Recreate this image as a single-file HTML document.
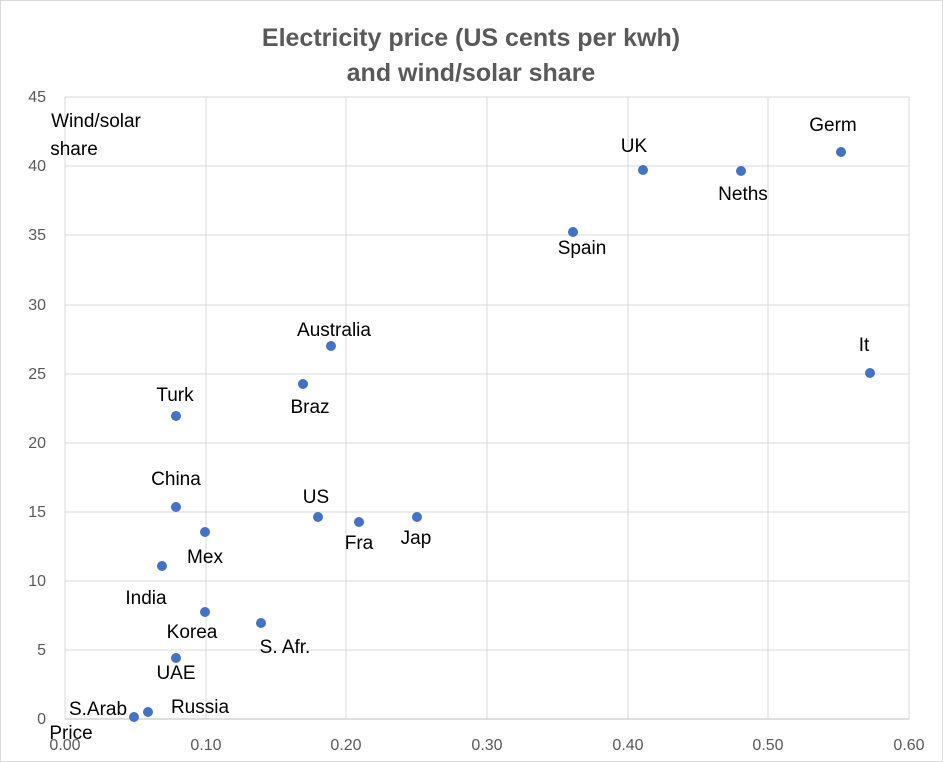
<!DOCTYPE html>
<html><head><meta charset="utf-8"><style>
body{margin:0;background:#fff;}
svg{display:block;font-family:"Liberation Sans",Arial,sans-serif;}
</style></head><body>
<svg width="943" height="762" viewBox="0 0 943 762">
<rect x="0.5" y="0.5" width="942" height="761" fill="#fff" stroke="#d9d9d9"/>
<text x="471" y="46" text-anchor="middle" font-size="25" font-weight="bold" fill="#595959">Electricity price (US cents per kwh)</text>
<text x="471" y="81" text-anchor="middle" font-size="25" font-weight="bold" fill="#595959">and wind/solar share</text>
<g stroke="#d9d9d9" stroke-width="1">
<line x1="65" y1="97" x2="909" y2="97"/><line x1="65" y1="166" x2="909" y2="166"/><line x1="65" y1="235" x2="909" y2="235"/><line x1="65" y1="305" x2="909" y2="305"/><line x1="65" y1="374" x2="909" y2="374"/><line x1="65" y1="443" x2="909" y2="443"/><line x1="65" y1="512" x2="909" y2="512"/><line x1="65" y1="581" x2="909" y2="581"/><line x1="65" y1="650" x2="909" y2="650"/>
<line x1="206" y1="97" x2="206" y2="719"/><line x1="346" y1="97" x2="346" y2="719"/><line x1="487" y1="97" x2="487" y2="719"/><line x1="628" y1="97" x2="628" y2="719"/><line x1="768" y1="97" x2="768" y2="719"/><line x1="909" y1="97" x2="909" y2="719"/>
<line x1="65" y1="97" x2="65" y2="719"/>
</g>
<line x1="65" y1="719" x2="909" y2="719" stroke="#bfbfbf"/>
<g font-size="16" fill="#595959" text-anchor="end">
<text x="46" y="102">45</text><text x="46" y="171">40</text><text x="46" y="240">35</text><text x="46" y="310">30</text><text x="46" y="379">25</text><text x="46" y="448">20</text><text x="46" y="517">15</text><text x="46" y="586">10</text><text x="46" y="655">5</text><text x="46" y="724">0</text>
</g>
<g font-size="16" fill="#595959" text-anchor="middle">
<text x="65" y="750">0.00</text><text x="206" y="750">0.10</text><text x="346" y="750">0.20</text><text x="487" y="750">0.30</text><text x="628" y="750">0.40</text><text x="768" y="750">0.50</text><text x="909" y="750">0.60</text>
</g>
<g fill="#4472c4">
<circle cx="841" cy="152" r="5"/><circle cx="643" cy="170" r="5"/><circle cx="741" cy="171" r="5"/><circle cx="573" cy="232" r="5"/><circle cx="870" cy="373" r="5"/><circle cx="331" cy="346" r="5"/><circle cx="303" cy="384" r="5"/><circle cx="176" cy="416" r="5"/><circle cx="176" cy="507" r="5"/><circle cx="318" cy="517" r="5"/><circle cx="359" cy="522" r="5"/><circle cx="417" cy="517" r="5"/><circle cx="205" cy="532" r="5"/><circle cx="162" cy="566" r="5"/><circle cx="205" cy="612" r="5"/><circle cx="261" cy="623" r="5"/><circle cx="176" cy="658" r="5"/><circle cx="148" cy="712" r="5"/><circle cx="134" cy="717" r="5"/>
</g>
<g font-size="19" fill="#000" text-anchor="middle">
<text x="96" y="127">Wind/solar</text><text x="74" y="155">share</text>
<text x="833" y="131">Germ</text><text x="634" y="152">UK</text><text x="743" y="200">Neths</text><text x="582" y="254">Spain</text><text x="864" y="351">It</text><text x="334" y="336">Australia</text><text x="310" y="413">Braz</text><text x="175" y="401">Turk</text><text x="176" y="485">China</text><text x="316" y="503">US</text><text x="359" y="549">Fra</text><text x="416" y="544">Jap</text><text x="205" y="563">Mex</text><text x="146" y="604">India</text><text x="192" y="638">Korea</text><text x="285" y="653">S. Afr.</text><text x="176" y="679">UAE</text><text x="200" y="713">Russia</text><text x="98" y="715">S.Arab</text><text x="71" y="739">Price</text>
</g>
</svg>
</body></html>
